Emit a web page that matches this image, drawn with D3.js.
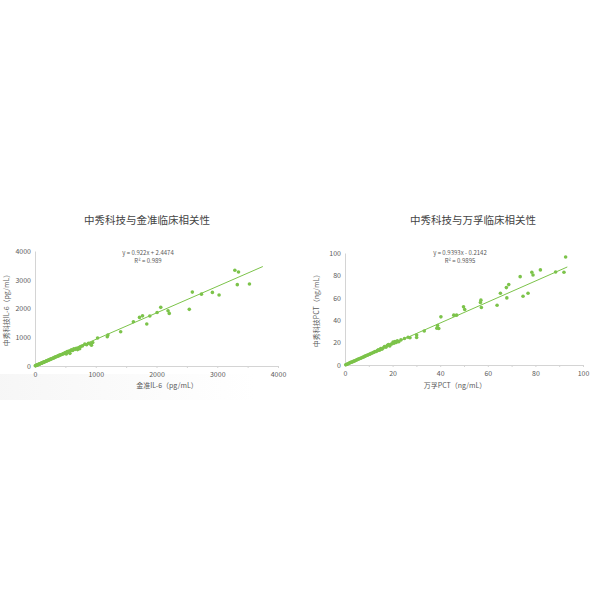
<!DOCTYPE html>
<html>
<head>
<meta charset="utf-8">
<script src="https://cdn.jsdelivr.net/npm/d3@7"></script>
<style>
  body { margin:0; background:#fff; }
  svg text { font-family: "Noto Sans CJK SC", "Noto Sans", sans-serif; }
</style>
</head>
<body>
<svg id="chart" width="600" height="600"></svg>
<script>
// IL-6 : jinzhun (x) vs zhongxiu (y), pg/mL
var il6Jinzhun = [5,12,20,28,35,42,50,58,66,74,82,90,100,108,116,125,134,142,150,160,170,180,190,200,212,224,236,248,260,272,285,298,310,322,335,348,360,372,385,398,410,425,440,455,470,485,500,515,530,545,560,575,590,605,620,640,660,680,700,720,735,750,780,820,850,880,910,930,950,1030,1190,1200,1410,1620,1720,1770,1840,1890,2010,2070,2190,2210,2540,2590,2740,2920,3030,3290,3350,3330,3530];
var il6Zhongxiu = [8,14,22,24,36,40,48,55,62,70,75,86,95,98,110,118,122,134,140,150,158,165,178,182,196,208,214,230,238,252,262,276,282,300,310,322,330,345,352,368,380,390,402,418,430,445,470,420,500,480,520,440,545,560,540,600,580,620,570,640,600,680,700,760,740,790,770,720,820,975,1020,1080,1190,1540,1690,1745,1460,1740,1860,2040,1920,1830,1970,2570,2500,2560,2470,3330,3270,2830,2850];

// PCT : wanfu (x) vs zhongxiu (y), ng/mL
var pctWanfu = [0.3,0.6,1.0,1.3,1.7,2.0,2.4,2.8,3.1,3.5,3.9,4.2,4.6,5.0,5.4,5.8,6.2,6.6,7.0,7.4,7.8,8.2,8.6,9.0,9.5,10.0,10.4,10.8,11.3,11.8,12.2,12.6,13.1,13.6,14.0,14.5,15.0,15.5,16.0,16.6,17.2,17.8,18.3,18.8,19.3,19.8,20.2,20.6,21.0,21.5,22.0,22.6,23.5,25.0,26.5,27.3,30.1,30.1,33.3,38.6,38.9,39.4,40.3,45.7,46.9,49.8,50.3,56.9,57.1,57.3,63.9,65.3,67.8,68.0,68.8,73.6,74.8,76.9,78.5,79.0,82.1,88.5,92.0,92.7];
var pctZhongxiu = [0.2,0.5,0.8,1.1,1.5,1.9,2.3,2.5,2.9,3.2,3.6,3.8,4.3,4.6,5.1,5.3,5.8,6.0,6.5,6.9,7.2,7.7,8.0,8.5,8.8,9.4,9.6,10.2,10.5,11.2,11.4,12.0,12.1,12.8,13.5,13.2,14.6,14.0,15.2,16.5,15.8,17.6,18.2,17.0,18.5,19.0,20.6,19.4,21.0,20.2,21.5,20.8,22.4,23.6,24.8,24.3,26.7,24.6,30.3,32.9,35.3,32.6,43.0,44.5,44.5,51.9,49.6,55.8,57.9,51.3,53.4,64.1,69.1,59.9,71.8,78.9,61.4,64.1,82.8,80.4,84.9,83.1,82.8,96.4];

var il6Ticks = [0,1000,2000,3000,4000];
var pctTicks = [0,20,40,60,80,100];

var charts = [
  { title:'中秀科技与金准临床相关性', xs:il6Jinzhun, ys:il6Zhongxiu, ticks:il6Ticks, minor:500,
    max:4000, lineEnd:3750, slope:0.922, icpt:2.4474,
    eq:'y = 0.922x + 2.4474', r2:'R² = 0.989',
    xTitle:'金准IL-6（pg/mL）', yTitle:'中秀科技IL-6（pg/mL）',
    x0:35, x1:278, y0:366, y1:251, titleX:147, eqX:148, xTitleX:167, yTitleX:7 },
  { title:'中秀科技与万孚临床相关性', xs:pctWanfu, ys:pctZhongxiu, ticks:pctTicks, minor:10,
    max:100, lineEnd:93.4, slope:0.9393, icpt:-0.2142,
    eq:'y = 0.9393x - 0.2142', r2:'R² = 0.9895',
    xTitle:'万孚PCT（ng/mL）', yTitle:'中秀科技PCT（ng/mL）',
    x0:345, x1:583, y0:365, y1:253, titleX:473, eqX:460, xTitleX:455, yTitleX:317 }
];

var svg = d3.select('#chart');
var GREEN = '#7cc34a';
var AXIS = '#d4d4d4';
var LABEL = '#5a5a5a';

// very faint grey shading under the left panel
var grad = svg.append('defs').append('linearGradient').attr('id','shade').attr('x1',0).attr('y1',0).attr('x2',1).attr('y2',0);
grad.append('stop').attr('offset','0%').attr('stop-color','#eeeeee').attr('stop-opacity',0.5);
grad.append('stop').attr('offset','100%').attr('stop-color','#eeeeee').attr('stop-opacity',0);
svg.append('rect').attr('x',0).attr('y',374).attr('width',255).attr('height',26).attr('fill','url(#shade)');

function drawChart(c){
  var x = d3.scaleLinear().domain([0,c.max]).range([c.x0,c.x1]);
  var y = d3.scaleLinear().domain([0,c.max]).range([c.y0,c.y1]);
  var g = svg.append('g');

  g.append('text').text(c.title)
    .attr('x',c.titleX).attr('y',224).attr('text-anchor','middle')
    .attr('font-size','10.5px').attr('fill','#444');

  // x axis: minor ticks, labelled majors
  var minorTicks = d3.range(0, c.max + c.minor/2, c.minor);
  var xa = g.append('g').attr('transform','translate(0,'+c.y0+')').attr('color',LABEL)
    .call(d3.axisBottom(x).tickValues(minorTicks).tickSize(2).tickSizeOuter(0)
      .tickFormat(function(d){ return c.ticks.indexOf(d) >= 0 ? d : ''; }));
  xa.select('.domain').attr('stroke',AXIS);
  xa.selectAll('line').attr('stroke',AXIS);
  xa.selectAll('text').attr('fill',LABEL).attr('font-size','7px').attr('dy','0.9em')
    .attr('font-family','"Noto Sans", sans-serif');

  var ya = g.append('g').attr('transform','translate('+c.x0+',0)').attr('color',LABEL)
    .call(d3.axisLeft(y).tickValues(c.ticks).tickSize(0).tickPadding(4).tickFormat(d3.format('d')));
  ya.select('.domain').attr('stroke',AXIS);
  ya.selectAll('text').attr('fill',LABEL).attr('font-size','7px')
    .attr('font-family','"Noto Sans", sans-serif');

  g.append('text').text(c.xTitle)
    .attr('x',c.xTitleX).attr('y',388).attr('text-anchor','middle')
    .attr('font-size','7px').attr('fill',LABEL);
  g.append('text').text(c.yTitle)
    .attr('transform','translate('+c.yTitleX+','+((c.y0+c.y1)/2)+') rotate(-90)')
    .attr('text-anchor','middle').attr('dy','0.35em')
    .attr('font-size','7px').attr('fill',LABEL);

  // trend line
  g.append('line')
    .attr('x1',x(0)).attr('y1',y(Math.max(0,c.icpt)))
    .attr('x2',x(c.lineEnd)).attr('y2',y(c.slope*c.lineEnd + c.icpt))
    .attr('stroke',GREEN).attr('stroke-width',1);

  g.selectAll('.pt').data(c.xs).enter().append('circle')
    .attr('class','pt')
    .attr('cx',function(d){ return x(d); })
    .attr('cy',function(d,i){ return y(c.ys[i]); })
    .attr('r',1.8).attr('fill',GREEN);

  g.append('text').text(c.eq)
    .attr('x',c.eqX).attr('y',255).attr('text-anchor','middle')
    .attr('font-size','6px').attr('fill',LABEL);
  g.append('text').text(c.r2)
    .attr('x',c.eqX).attr('y',263).attr('text-anchor','middle')
    .attr('font-size','6px').attr('fill',LABEL);
}

charts.forEach(drawChart);
</script>
</body>
</html>
